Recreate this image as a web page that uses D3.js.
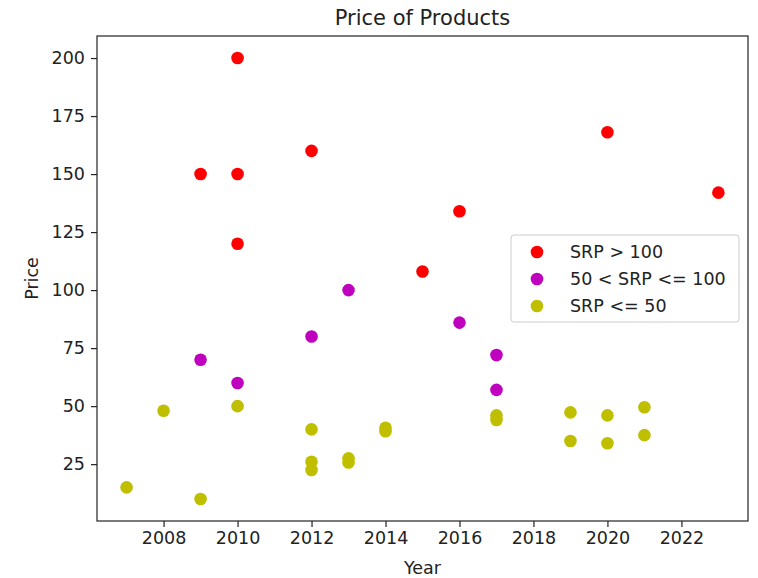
<!DOCTYPE html>
<html>
<head>
<meta charset="utf-8">
<script src="https://cdn.jsdelivr.net/npm/d3@7"></script>
<style>
  body { margin: 0; background: #fff; }
  text { font-family: "DejaVu Sans", sans-serif; fill: #222; }
</style>
</head>
<body>
<div id="chart"></div>
<script>
// series: [year, price]
const highSeries = [[2009, 150], [2010, 200], [2010, 150], [2010, 120], [2012, 160], [2015, 108], [2016, 134], [2020, 168], [2023, 142]]
const midSeries = [[2009, 70], [2010, 60], [2012, 80], [2013, 100], [2016, 86], [2017, 72], [2017, 57]]
const lowSeries = [[2007, 15], [2008, 48], [2009, 10], [2010, 50], [2012, 40], [2012, 26], [2012, 22.5], [2013, 27.5], [2013, 25.7],
  [2014, 40.7], [2014, 39.2], [2017, 46], [2017, 44], [2019, 47.3], [2019, 35], [2020, 46], [2020, 34], [2021, 49.5], [2021, 37.5]]
const seriesLabels = ['SRP > 100', '50 < SRP <= 100', 'SRP <= 50']
const seriesColors = ['#ff0000', '#bf00bf', '#bfbf00']
const xTicks = [2008, 2010, 2012, 2014, 2016, 2018, 2020, 2022]
const yTicks = [25, 50, 75, 100, 125, 150, 175, 200]

// outer svg dimensions
const width = 758
const height = 578
const padding = { top: 36, right: 10, bottom: 57, left: 97 }
const plotW = width - padding.left - padding.right
const plotH = height - padding.top - padding.bottom

const allSeries = [highSeries, midSeries, lowSeries]
const allPts = [].concat(...allSeries)

// matplotlib-ish 5% margins
const xExt = d3.extent(allPts, d => d[0])
const yExt = d3.extent(allPts, d => d[1])
const xPad = (xExt[1] - xExt[0]) * 0.05
const yPad = (yExt[1] - yExt[0]) * 0.05
const xScale = d3.scaleLinear().domain([xExt[0] - xPad, xExt[1] + xPad]).range([0, plotW])
const yScale = d3.scaleLinear().domain([yExt[0] - yPad, yExt[1] + yPad]).range([plotH, 0])

const svg = d3.select('#chart').append('svg').attr('width', width).attr('height', height)
const g = svg.append('g').attr('transform', `translate(${padding.left} ${padding.top})`)

// axes
const xAxis = g.append('g').attr('transform', `translate(0 ${plotH})`)
  .call(d3.axisBottom(xScale).tickValues(xTicks).tickFormat(d3.format('d')).tickSize(6).tickPadding(5))
const yAxis = g.append('g')
  .call(d3.axisLeft(yScale).tickValues(yTicks).tickFormat(d3.format('d')).tickSize(6).tickPadding(6))
for (const ax of [xAxis, yAxis]) {
  ax.select('.domain').remove()
  ax.selectAll('line').attr('stroke', '#222').attr('stroke-width', 1.2)
  ax.selectAll('text').style('font-size', '17.5px').attr('fill', '#222')
}

// frame
g.append('rect').attr('width', plotW).attr('height', plotH)
  .attr('fill', 'none').attr('stroke', '#222').attr('stroke-width', 1.2)

// points
allSeries.forEach((series, i) => {
  g.append('g').selectAll('circle').data(series).enter().append('circle')
    .attr('cx', d => xScale(d[0]))
    .attr('cy', d => yScale(d[1]))
    .attr('r', 6.3)
    .attr('fill', seriesColors[i])
})

// titles
svg.append('text').attr('x', padding.left + plotW / 2).attr('y', 25)
  .attr('text-anchor', 'middle').style('font-size', '21px').text('Price of Products')
svg.append('text').attr('x', padding.left + plotW / 2).attr('y', 574)
  .attr('text-anchor', 'middle').style('font-size', '17.5px').text('Year')
svg.append('text').attr('transform', `translate(38 ${padding.top + plotH / 2}) rotate(-90)`)
  .attr('text-anchor', 'middle').style('font-size', '17.5px').text('Price')

// legend
const legend = svg.append('g').attr('transform', 'translate(511 235)')
legend.append('rect').attr('width', 228).attr('height', 87).attr('rx', 3)
  .attr('fill', 'rgba(255,255,255,0.8)').attr('stroke', '#ccc')
seriesLabels.forEach((label, i) => {
  const row = legend.append('g').attr('transform', `translate(0 ${17 + i * 27})`)
  row.append('circle').attr('cx', 26).attr('cy', 0).attr('r', 6.3).attr('fill', seriesColors[i])
  row.append('text').attr('x', 59).attr('y', 6).style('font-size', '17.5px').text(label)
})
</script>
</body>
</html>
